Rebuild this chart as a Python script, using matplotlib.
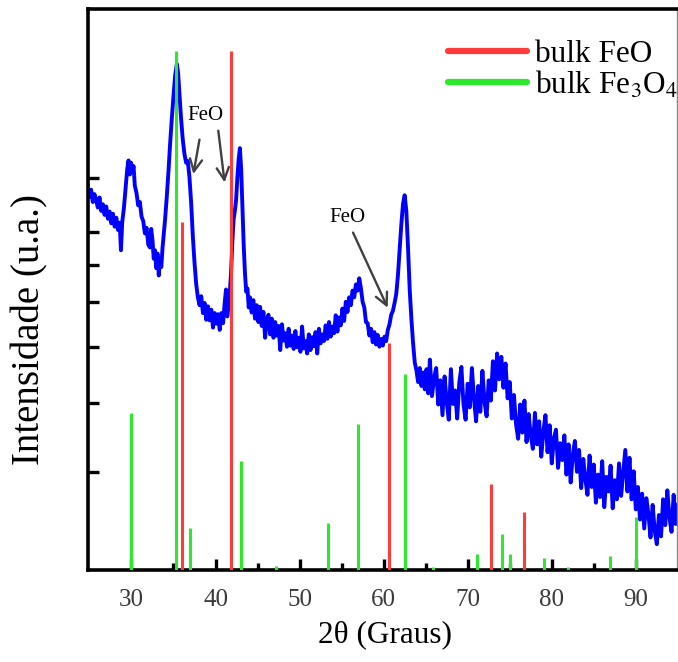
import matplotlib

matplotlib.use("Agg")
import matplotlib.pyplot as plt
from matplotlib.lines import Line2D

plt.rcParams["font.family"] = ["Liberation Serif", "DejaVu Serif"]
plt.rcParams["mathtext.fontset"] = "stix"

# measured XRD scan (2theta in degrees, intensity in arbitrary units)
scan_2theta = [
    24.8, 25.0, 25.2, 25.4, 25.6, 25.8, 26.0, 26.2, 26.4, 26.6,
    26.8, 27.0, 27.2, 27.4, 27.6, 27.8, 28.0, 28.2, 28.4, 28.6,
    28.75, 28.9, 29.1, 29.3, 29.5, 29.65, 29.8, 29.95, 30.1, 30.25,
    30.4, 30.6, 30.8, 31.0, 31.2, 31.4, 31.6, 31.8, 32.0, 32.2,
    32.35, 32.5, 32.65, 32.8, 32.95, 33.1, 33.25, 33.4, 33.55, 33.7,
    33.85, 34.0, 34.2, 34.4, 34.6, 34.8, 35.0, 35.2, 35.4, 35.55,
    35.7, 35.9, 36.1, 36.3, 36.5, 36.7, 36.9, 37.1, 37.3, 37.5,
    37.7, 37.9, 38.1, 38.3, 38.5, 38.7, 38.9, 39.1, 39.3, 39.5,
    39.7, 39.9, 40.1, 40.3, 40.5, 40.7, 40.9, 41.1, 41.25, 41.4,
    41.55, 41.7, 41.85, 42.0, 42.15, 42.3, 42.45, 42.6, 42.75, 42.9,
    43.05, 43.2, 43.35, 43.5, 43.65, 43.8, 43.95, 44.1, 44.3, 44.5,
    44.7, 44.9, 45.1, 45.3, 45.5, 45.7, 45.9, 46.1, 46.3, 46.5,
    46.7, 46.9, 47.1, 47.3, 47.5, 47.7, 47.9, 48.1, 48.3, 48.5,
    48.7, 48.9, 49.1, 49.3, 49.5, 49.7, 49.9, 50.1, 50.3, 50.5,
    50.7, 50.9, 51.1, 51.3, 51.5, 51.7, 51.9, 52.1, 52.3, 52.5,
    52.7, 52.9, 53.1, 53.3, 53.5, 53.7, 53.9, 54.1, 54.3, 54.5,
    54.7, 54.9, 55.1, 55.3, 55.5, 55.7, 55.9, 56.1, 56.3, 56.5,
    56.7, 56.9, 57.1, 57.3, 57.5, 57.7, 57.9, 58.1, 58.3, 58.5,
    58.7, 58.9, 59.1, 59.3, 59.5, 59.7, 59.9, 60.1, 60.3, 60.5,
    60.7, 60.9, 61.1, 61.3, 61.5, 61.7, 61.9, 62.1, 62.3, 62.5,
    62.7, 62.9, 63.1, 63.3, 63.5, 63.7, 63.9, 64.1, 64.3, 64.5,
    64.7, 64.9, 65.1, 65.3,
    65.5, 65.75, 66.0, 66.25, 66.5, 66.75, 67.0, 67.25, 67.5, 67.75,
    68.0, 68.25, 68.5, 68.75, 69.0, 69.25, 69.5, 69.75, 70.0, 70.25,
    70.5, 70.75, 71.0, 71.25, 71.5, 71.75, 72.0, 72.25, 72.5, 72.75,
    73.0, 73.25, 73.5, 73.75, 74.0, 74.25, 74.5, 74.75, 75.0, 75.25,
    75.5, 75.75, 76.0, 76.25, 76.5, 76.75, 77.0, 77.25, 77.5, 77.75,
    78.0, 78.25, 78.5, 78.75, 79.0, 79.25, 79.5, 79.75, 80.0, 80.25,
    80.5, 80.75, 81.0, 81.25, 81.5, 81.75, 82.0, 82.25, 82.5, 82.75,
    83.0, 83.25, 83.5, 83.75, 84.0, 84.25, 84.5, 84.75, 85.0, 85.25,
    85.5, 85.75, 86.0, 86.25, 86.5, 86.75, 87.0, 87.25, 87.5, 87.75,
    88.0, 88.25, 88.5, 88.75, 89.0, 89.25, 89.5, 89.75, 90.0, 90.25,
    90.5, 90.75, 91.0, 91.25, 91.5, 91.75, 92.0, 92.25, 92.5, 92.75,
    93.0, 93.25, 93.5, 93.75, 94.0, 94.25, 94.5, 94.75, 95.0,
]
scan_intensity = [
    68.4, 66.5, 67.8, 65.6, 67.0, 65.9, 64.6, 66.4, 64.0, 65.2,
    63.3, 64.8, 62.6, 63.9, 61.8, 63.5, 61.2, 62.8, 60.6, 61.9,
    57.0, 62.0, 64.5, 68.0, 71.5, 73.0, 70.5, 72.6, 71.0, 72.0,
    68.5, 67.2, 65.0, 65.6, 63.0, 62.2, 60.0, 61.0, 58.0, 57.5,
    60.8, 58.8, 55.5, 57.0, 53.8, 56.4, 52.5, 55.6, 54.0, 57.5,
    60.0, 62.5, 66.5, 71.0, 76.0, 80.5, 84.5, 88.2, 90.2, 88.6,
    85.0, 80.5, 76.8, 74.2, 72.6, 72.9, 70.0, 65.5, 59.5, 54.8,
    51.0, 48.6, 47.2, 48.8, 45.8, 47.6, 44.6, 47.0, 44.5, 46.4,
    43.2, 45.8, 43.9, 45.6, 42.8, 45.8, 44.0, 47.8, 50.0, 45.2,
    47.2, 49.5, 53.0, 58.5, 62.5, 64.0, 66.0, 70.0, 73.2, 75.2,
    71.5, 65.0, 58.0, 53.0, 49.6, 50.2, 46.8, 48.6, 45.9, 48.1,
    44.8, 47.2, 44.2, 46.9, 43.5, 46.0, 41.4, 44.6, 45.5, 42.0,
    44.8, 41.4, 44.2, 41.8, 43.5, 39.2, 43.8, 40.9, 42.2, 39.8,
    43.0, 40.0, 41.8, 39.4, 42.6, 39.7, 41.4, 38.9, 43.4, 39.5,
    40.8, 38.6, 42.0, 39.2, 41.5, 39.9, 42.4, 38.6, 43.0, 40.4,
    42.0, 40.8, 43.6, 41.2, 44.2, 41.6, 43.4, 42.2, 45.4, 42.5,
    45.0, 43.6, 46.6, 44.4, 47.8, 46.0, 48.6, 47.2, 49.8, 48.6,
    50.9, 49.8, 52.0, 50.2, 47.8, 46.8, 44.2, 44.0, 41.8, 43.0,
    40.6, 42.4, 40.2, 41.9, 39.8, 41.2, 40.0, 41.6, 40.8, 42.8,
    43.8, 45.5, 46.2, 47.6, 49.2, 52.5, 57.0, 61.5, 65.2, 66.8,
    64.0, 57.5, 50.0, 44.8, 40.5, 37.0, 35.6, 33.5, 36.0, 32.8,
    35.2, 32.2, 35.8, 31.5,
    37.5, 31.0, 34.2, 36.0, 29.5, 33.8, 27.6, 34.5, 30.0, 26.8,
    35.8, 29.6, 32.0, 27.0, 33.4, 36.2, 29.5, 26.8, 33.2, 29.0,
    36.0, 30.5, 26.5, 32.8, 28.2, 35.5, 30.0, 27.4, 33.8, 30.2,
    37.2, 32.0, 38.6, 34.0, 38.0, 32.5, 36.8, 30.6, 33.5, 27.0,
    31.2, 26.0, 23.4, 29.5, 24.5, 30.2, 22.8, 27.8, 24.0, 21.6,
    28.0, 22.4, 26.5, 20.2, 24.6, 27.6, 21.0, 25.8, 19.0, 23.4,
    25.0, 18.2, 22.6, 19.6, 24.0, 17.0, 22.4, 15.6, 20.5, 23.0,
    17.5, 21.4, 14.6, 19.8, 16.2, 13.4, 20.4, 14.8, 18.8, 12.0,
    17.0, 13.0, 19.4, 11.2, 16.6, 14.0, 18.6, 11.0, 16.0, 12.6,
    19.0, 13.2, 17.2, 21.4, 14.0, 20.0, 12.6, 17.6, 10.8, 14.8,
    9.0, 13.6, 7.4, 12.8, 10.0, 5.8, 11.6, 7.0, 4.6, 9.8,
    6.0, 12.6, 8.0, 14.2, 9.4, 6.8, 13.4, 8.2, 11.6,
]

# reference patterns (stick positions and relative heights)
feo_2theta = [35.97, 41.83, 60.65, 72.83, 76.67]
feo_height = [62.0, 92.5, 40.5, 15.3, 10.4]
fe3o4_2theta = [30.0, 35.26, 36.99, 42.98, 47.15, 53.4, 56.97, 62.5, 65.85,
                71.1, 74.09, 75.09, 79.05, 81.94, 86.98, 89.99]
fe3o4_height = [27.9, 92.5, 7.4, 19.4, 0.8, 8.3, 26.1, 34.9, 0.6,
                2.8, 6.5, 2.8, 2.2, 0.6, 2.5, 9.5]

ytick_positions = [17.5, 29.8, 39.7, 47.8, 54.4, 60.2, 69.9]

blue = "#0000ff"
red = "#ff3b3b"
green = "#2ee82e"
arrow_color = "#404040"

fig = plt.figure(figsize=(6.78, 6.62), dpi=100)
ax = fig.add_axes([88 / 678, 92 / 662, 589 / 678, 561 / 662])

ax.plot(scan_2theta, scan_intensity, color=blue, lw=2.8, zorder=2)
ax.vlines(fe3o4_2theta, 0, fe3o4_height, color=green, lw=2.2, zorder=3)
ax.vlines(feo_2theta, 0, feo_height, color=red, lw=2.2, zorder=3)

ax.set_xlim(24.83, 94.9)
ax.set_ylim(0, 100)

ax.set_xticks([30, 40, 50, 60, 70, 80, 90])
ax.set_xticks([35, 45, 55, 65, 75, 85], minor=True)
ax.set_yticks(ytick_positions)
ax.set_yticklabels([])
ax.tick_params(axis="both", which="major", direction="in", length=8, width=2.4, color="black")
ax.tick_params(axis="both", which="minor", direction="in", length=5, width=2.4, color="black")
ax.tick_params(axis="x", labelsize=18, labelcolor="#3a3a3a", pad=14)

for side in ["left", "bottom", "top"]:
    ax.spines[side].set_linewidth(2.6)
ax.spines["right"].set_linewidth(1.0)
ax.spines["right"].set_color("#888888")

ax.set_xlabel("2θ (Graus)", fontsize=22.5)
ax.xaxis.set_label_coords(0.505, -0.090)
ax.set_ylabel("Intensidade (u.a.)", fontsize=28)
ax.yaxis.set_label_coords(-0.067, 0.428)

# FeO markers
ax.text(38.86, 81.1, "FeO", fontsize=15, ha="center", va="center")
ax.annotate("", xy=(37.31, 70.1), xytext=(38.15, 77.2),
            arrowprops=dict(arrowstyle="->", color=arrow_color, lw=1.7, mutation_scale=22))
ax.annotate("", xy=(41.12, 68.6), xytext=(40.29, 78.8),
            arrowprops=dict(arrowstyle="->", color=arrow_color, lw=1.7, mutation_scale=22))
ax.text(55.74, 62.9, "FeO", fontsize=15, ha="center", va="center")
ax.annotate("", xy=(60.62, 46.3), xytext=(56.22, 60.6),
            arrowprops=dict(arrowstyle="->", color=arrow_color, lw=1.7, mutation_scale=22))

handles = [Line2D([], [], color=red, lw=4.5, solid_capstyle="round"),
           Line2D([], [], color=green, lw=4.5, solid_capstyle="round")]
ax.legend(handles, ["bulk FeO", "bulk Fe$_3$O$_4$"], loc="upper left",
          bbox_to_anchor=(0.611, 0.9445), frameon=False, fontsize=22.5,
          handlelength=2.53, handletextpad=0.26, labelspacing=0.0,
          borderpad=0, borderaxespad=0)

fig.savefig("out.png", dpi=100)
